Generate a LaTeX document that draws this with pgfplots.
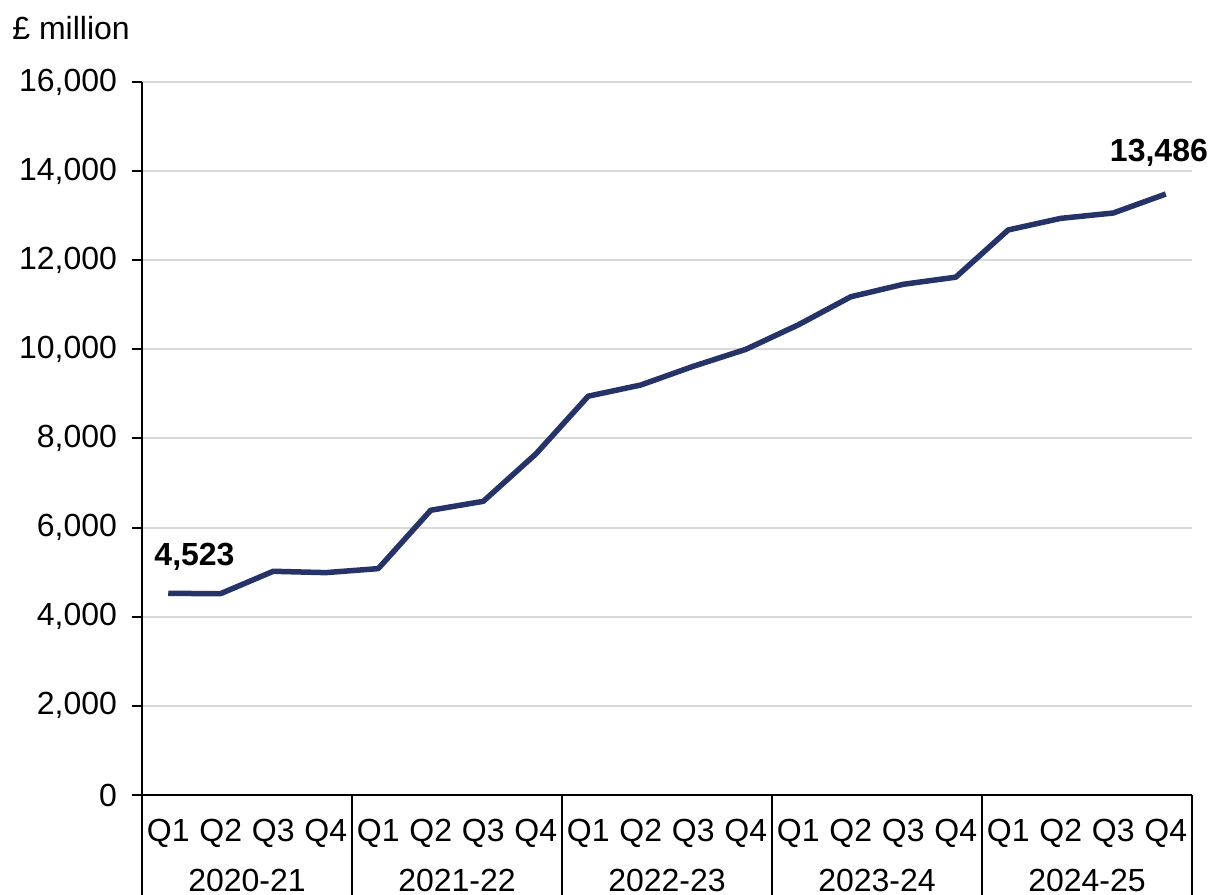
\documentclass[border=0pt]{standalone}
\usepackage{fontspec}
\setmainfont{Liberation Sans}
\usepackage{pgfplots}
\pgfplotsset{compat=1.18}
\definecolor{navy}{HTML}{253368}
\definecolor{gridgray}{HTML}{D9D9D9}
\newcommand{\fs}{\fontsize{16bp}{18bp}\selectfont}
\begin{document}
\begin{tikzpicture}[x=1bp,y=1bp]
\fs
\begin{axis}[
    scale only axis,
    width=525bp, height=356.5bp,
    xmin=-0.5, xmax=19.5,
    ymin=0, ymax=16000,
    ytick={0,2000,...,16000},
    scaled y ticks=false,
    xtick={0,...,19},
    xticklabels={Q1,Q2,Q3,Q4,Q1,Q2,Q3,Q4,Q1,Q2,Q3,Q4,Q1,Q2,Q3,Q4,Q1,Q2,Q3,Q4},
    major x tick style={draw=none},
    axis x line=bottom, axis y line=left,
    axis line style={line width=1bp, -},
    y tick style={line width=1bp, black},
    tick align=outside, major tick length=5bp,
    ymajorgrids, grid style={gridgray, line width=1bp},
    xticklabel style={yshift=-1.5bp},
    yticklabel style={xshift=-2bp},
    /pgf/number format/assume math mode=true,
    /pgf/number format/.cd, 1000 sep={,},
    /pgfplots/.cd,
    tick label style={font=\fs},
    clip=false,
]
\addplot[navy, line width=2.75bp, line join=round] coordinates {
 (0,4523) (1,4520) (2,5020) (3,4990)
 (4,5080) (5,6390) (6,6590) (7,7650)
 (8,8950) (9,9200) (10,9620) (11,10000)
 (12,10550) (13,11180) (14,11460) (15,11620)
 (16,12680) (17,12940) (18,13060) (19,13486)
};
\node[font=\bfseries\fs] at (axis cs:0.5,4523) [yshift=18.5bp] {4,523};
\node[font=\bfseries\fs] at (axis cs:18.87,13486) [yshift=20.5bp] {13,486};
\pgfplotsinvokeforeach{-0.5,3.5,7.5,11.5,15.5,19.5}{
  \draw[line width=1bp] (axis cs:#1,0) -- ++(0bp,-50bp);
}
\node at (axis cs:1.5,0) [yshift=-42.5bp] {2020-21};
\node at (axis cs:5.5,0) [yshift=-42.5bp] {2021-22};
\node at (axis cs:9.5,0) [yshift=-42.5bp] {2022-23};
\node at (axis cs:13.5,0) [yshift=-42.5bp] {2023-24};
\node at (axis cs:17.5,0) [yshift=-42.5bp] {2024-25};
\node[anchor=west, inner sep=0pt] at (rel axis cs:0,1) [xshift=-65bp, yshift=27bp] {£ million};
\coordinate (bl) at (rel axis cs:0,0);
\coordinate (tr) at (rel axis cs:1,1);
\end{axis}
\pgfresetboundingbox
\path[use as bounding box] ([xshift=-71bp,yshift=-50bp]bl) rectangle ([xshift=9.5bp,yshift=41bp]tr);
\end{tikzpicture}
\end{document}
